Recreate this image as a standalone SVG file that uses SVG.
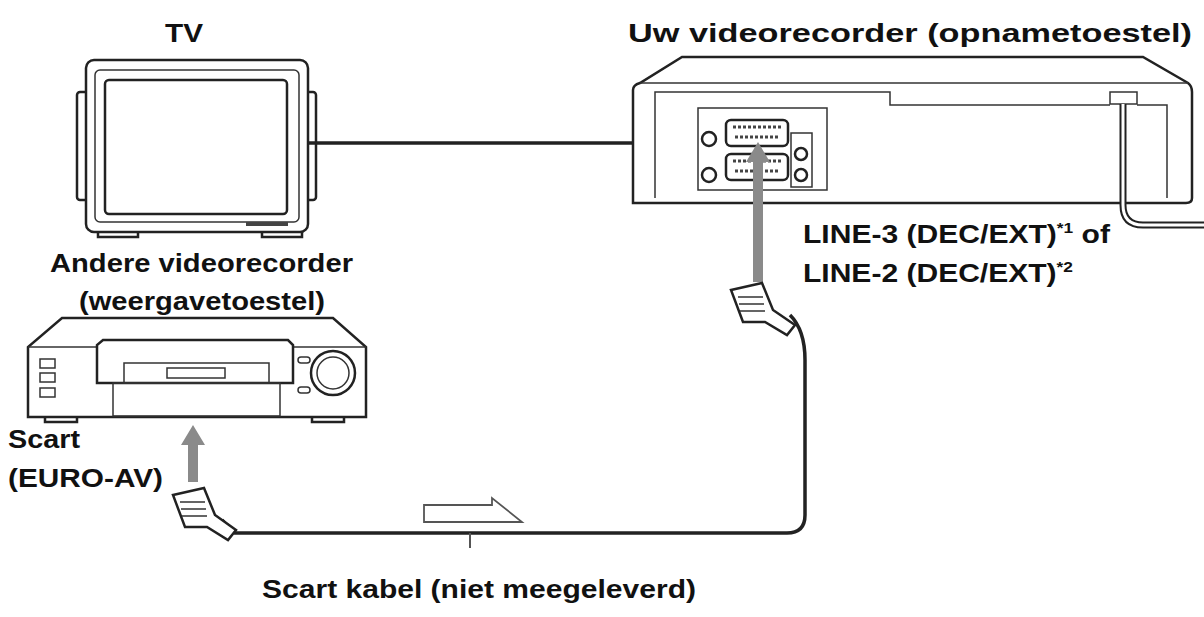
<svg xmlns="http://www.w3.org/2000/svg" width="1204" height="617" viewBox="0 0 1204 617">
<style>
.t{font-family:"Liberation Sans",Arial,sans-serif;font-weight:bold;font-size:26px;fill:#111}
.o{fill:#fff;stroke:#222;stroke-width:2.5}
.th{fill:none;stroke:#333;stroke-width:1.5}
.c{fill:none;stroke:#222;stroke-width:3.5}
.g{fill:#8a8a8a}
</style>
<rect width="1204" height="617" fill="#fff"/>
<g id="tv">
<rect class="o" x="77" y="92" width="12" height="108" rx="3"/>
<rect class="o" x="303" y="92" width="13" height="108" rx="3"/>
<path class="o" d="M98,230 h40 v7 h-40z M262,230 h40 v7 h-40z"/>
<rect class="o" x="86" y="60" width="222" height="172" rx="8"/>
<rect class="th" x="95" y="70" width="204" height="152" rx="5"/>
<rect class="o" x="105" y="80" width="182" height="134" rx="4"/>
<rect x="246" y="222" width="42" height="4" fill="#444"/>
<text class="t" x="165" y="42" textLength="38" lengthAdjust="spacingAndGlyphs">TV</text>
</g>
<g id="vcr-rec">
<path class="o" d="M633,203 V90 Q633,85 640,83 L682,57 H1143 L1188,83 Q1192,86 1192,92 V198 Q1192,203 1186,203z"/>
<path class="th" d="M640,83 H1188"/>
<path class="th" d="M655,198 V92 H890 V105 H1110 M1137,105 H1167 V198"/>
<rect class="th" x="698" y="108" width="129" height="82"/>
<rect class="o" x="726" y="120" width="62" height="26" rx="5"/>
<rect class="o" x="726" y="154" width="62" height="26" rx="5"/>
<path d="M733,127 h48 M735,137 h44 M733,161 h48 M735,171 h44" stroke="#444" stroke-width="3" stroke-dasharray="3 2"/>
<circle class="o" cx="709" cy="139" r="7"/><circle class="o" cx="709" cy="175" r="7"/>
<rect class="th" x="791" y="133" width="21" height="54"/>
<circle class="o" cx="801" cy="154" r="6"/><circle class="o" cx="801" cy="175" r="6"/>
<rect class="th" x="1110" y="92" width="27" height="12"/>
<text class="t" x="628" y="42" textLength="564" lengthAdjust="spacingAndGlyphs">Uw videorecorder (opnametoestel)</text>
<text class="t" x="803" y="243" textLength="307" lengthAdjust="spacingAndGlyphs">LINE-3 (DEC/EXT)<tspan font-size="15" dy="-10">*1</tspan><tspan dy="10"> of</tspan></text>
<text class="t" x="803" y="282" textLength="270" lengthAdjust="spacingAndGlyphs">LINE-2 (DEC/EXT)<tspan font-size="15" dy="-10">*2</tspan></text>
</g>
<g id="vcr-play">
<path class="o" d="M45,415 h32 v7 h-32z M312,415 h32 v7 h-32z"/>
<path class="o" d="M28,417 V347 L62,318 H333 L366,347 V417z"/>
<path class="th" d="M28,347 H366"/>
<path class="o" d="M97,383 V345 L103,340 H288 L293,345 V383z"/>
<rect class="th" x="113" y="383" width="167" height="33"/>
<rect class="th" x="124" y="363" width="145" height="20"/>
<rect class="th" x="167" y="368" width="58" height="10"/>
<rect class="th" x="40" y="359" width="15" height="9"/><rect class="th" x="40" y="373" width="15" height="9"/><rect class="th" x="40" y="388" width="15" height="9"/>
<rect class="th" x="298" y="357" width="12" height="6" rx="3"/><rect class="th" x="298" y="387" width="12" height="6" rx="3"/>
<circle class="o" cx="333" cy="373" r="22"/><circle class="th" cx="333" cy="373" r="16"/>
<text class="t" x="50" y="272" textLength="303" lengthAdjust="spacingAndGlyphs">Andere videorecorder</text>
<text class="t" x="79" y="310" textLength="246" lengthAdjust="spacingAndGlyphs">(weergavetoestel)</text>
<text class="t" x="8" y="448" textLength="72" lengthAdjust="spacingAndGlyphs">Scart</text>
<text class="t" x="8" y="487" textLength="155" lengthAdjust="spacingAndGlyphs">(EURO-AV)</text>
</g>
<g id="connectors">
<path class="c" d="M308,143 H633"/>
<path fill="none" stroke="#222" stroke-width="7" d="M1123,104 V205 Q1123,225 1143,225 H1204"/>
<path fill="none" stroke="#fff" stroke-width="3" d="M1123,104 V205 Q1123,225 1143,225 H1204"/>
<path class="c" d="M790,315 Q805,330 805,360 V515 Q805,533 787,533 H235 L222,520"/>
<path class="g" d="M753,282 V162 H746 L758,142 L770,162 H763 V282z"/>
<path class="g" d="M188,482 V445 H181 L193,425 L205,445 H198 V482z"/>
<g id="plug-right"><path class="o" d="M731,290 L762,283 L773,310 L795,325 L787,335 L765,322 L743,322z"/><path class="th" d="M738,297 h25 M739,304 h25 M740,311 h25"/></g>
<g id="plug-left"><path class="o" d="M173,495 L204,488 L215,515 L236,530 L228,540 L207,527 L185,527z"/><path class="th" d="M180,502 h25 M181,509 h25 M182,516 h25"/></g>
<path fill="#fff" stroke="#555" stroke-width="1.8" d="M424,505 H492 V498 L522,522 H424z"/>
<path stroke="#555" stroke-width="2" d="M470,533 V548"/>
<text class="t" x="262" y="598" textLength="434" lengthAdjust="spacingAndGlyphs">Scart kabel (niet meegeleverd)</text>
</g>
</svg>
